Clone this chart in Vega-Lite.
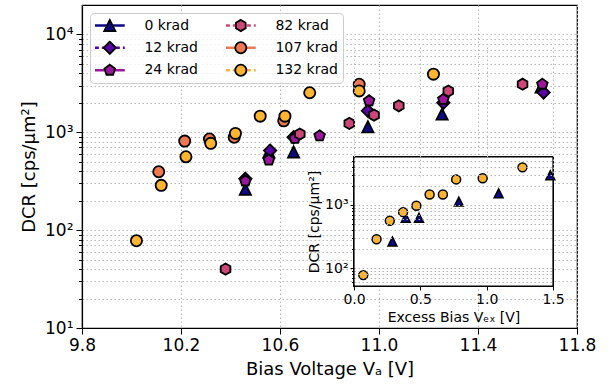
{
  "$schema": "https://vega.github.io/schema/vega-lite/v6.json",
  "autosize": {"type": "none"},
  "width": 495,
  "height": 323,
  "padding": {"left": 82, "top": 5, "right": 31, "bottom": 58},
  "background": "white",
  "config": {
    "font": "DejaVu Sans",
    "view": {"stroke": "black", "strokeWidth": 1.2},
    "axis": {
      "labelFont": "DejaVu Sans", "titleFont": "DejaVu Sans",
      "labelColor": "black", "titleColor": "black", "titleFontWeight": "normal",
      "domainColor": "black", "domainWidth": 1.2, "tickColor": "black", "tickWidth": 1,
      "gridColor": "#b8b8b8", "gridDash": [1.5, 2.5], "gridWidth": 1, "labelFlush": false
    },
    "legend": {"labelFont": "DejaVu Sans", "labelColor": "black"}
  },
  "datasets": {
    "main": [
      {"dose": "0 krad", "va": 10.46, "dcr": 262},
      {"dose": "0 krad", "va": 10.555, "dcr": 630},
      {"dose": "0 krad", "va": 10.655, "dcr": 630},
      {"dose": "0 krad", "va": 10.955, "dcr": 1137},
      {"dose": "0 krad", "va": 11.255, "dcr": 1534},
      {"dose": "0 krad", "va": 11.655, "dcr": 2900},
      {"dose": "12 krad", "va": 10.46, "dcr": 335},
      {"dose": "12 krad", "va": 10.56, "dcr": 650},
      {"dose": "12 krad", "va": 10.655, "dcr": 890},
      {"dose": "12 krad", "va": 10.955, "dcr": 1660},
      {"dose": "12 krad", "va": 11.26, "dcr": 2000},
      {"dose": "12 krad", "va": 11.665, "dcr": 2550},
      {"dose": "24 krad", "va": 10.46, "dcr": 318},
      {"dose": "24 krad", "va": 10.555, "dcr": 520},
      {"dose": "24 krad", "va": 10.66, "dcr": 867},
      {"dose": "24 krad", "va": 10.76, "dcr": 920},
      {"dose": "24 krad", "va": 10.96, "dcr": 2100},
      {"dose": "24 krad", "va": 11.26, "dcr": 2170},
      {"dose": "24 krad", "va": 11.66, "dcr": 3100},
      {"dose": "82 krad", "va": 10.38, "dcr": 40},
      {"dose": "82 krad", "va": 10.68, "dcr": 960},
      {"dose": "82 krad", "va": 10.88, "dcr": 1233},
      {"dose": "82 krad", "va": 10.98, "dcr": 1500},
      {"dose": "82 krad", "va": 11.08, "dcr": 1866},
      {"dose": "82 krad", "va": 11.28, "dcr": 2640},
      {"dose": "82 krad", "va": 11.58, "dcr": 3100},
      {"dose": "107 krad", "va": 10.11, "dcr": 395},
      {"dose": "107 krad", "va": 10.215, "dcr": 813},
      {"dose": "107 krad", "va": 10.315, "dcr": 853},
      {"dose": "107 krad", "va": 10.415, "dcr": 890},
      {"dose": "107 krad", "va": 10.615, "dcr": 1310},
      {"dose": "107 krad", "va": 10.92, "dcr": 3100},
      {"dose": "132 krad", "va": 10.02, "dcr": 78},
      {"dose": "132 krad", "va": 10.12, "dcr": 287},
      {"dose": "132 krad", "va": 10.22, "dcr": 562},
      {"dose": "132 krad", "va": 10.32, "dcr": 771},
      {"dose": "132 krad", "va": 10.42, "dcr": 975},
      {"dose": "132 krad", "va": 10.52, "dcr": 1462},
      {"dose": "132 krad", "va": 10.62, "dcr": 1462},
      {"dose": "132 krad", "va": 10.72, "dcr": 2535},
      {"dose": "132 krad", "va": 10.92, "dcr": 2650},
      {"dose": "132 krad", "va": 11.22, "dcr": 3930}
    ],
    "inset": [
      {"dose": "0 krad", "vex": 0.29, "dcr": 265},
      {"dose": "0 krad", "vex": 0.39, "dcr": 630},
      {"dose": "0 krad", "vex": 0.49, "dcr": 630},
      {"dose": "0 krad", "vex": 0.79, "dcr": 1130},
      {"dose": "0 krad", "vex": 1.09, "dcr": 1530},
      {"dose": "0 krad", "vex": 1.48, "dcr": 2950},
      {"dose": "132 krad", "vex": 0.07, "dcr": 78},
      {"dose": "132 krad", "vex": 0.17, "dcr": 287},
      {"dose": "132 krad", "vex": 0.27, "dcr": 562},
      {"dose": "132 krad", "vex": 0.37, "dcr": 771},
      {"dose": "132 krad", "vex": 0.47, "dcr": 975},
      {"dose": "132 krad", "vex": 0.57, "dcr": 1462},
      {"dose": "132 krad", "vex": 0.67, "dcr": 1462},
      {"dose": "132 krad", "vex": 0.77, "dcr": 2535},
      {"dose": "132 krad", "vex": 0.97, "dcr": 2650},
      {"dose": "132 krad", "vex": 1.27, "dcr": 3930}
    ]
  },
  "layer": [
    {
      "data": {"name": "main"},
      "layer": [
        {
          "mark": {"type": "point", "filled": true, "stroke": "black", "strokeWidth": 1.8, "size": 125, "opacity": 1},
          "encoding": {
            "x": {
              "field": "va", "type": "quantitative",
              "scale": {"domain": [9.8, 11.8], "nice": false, "zero": false},
              "axis": {
                "orient": "bottom", "values": [9.8, 10.2, 10.6, 11.0, 11.4, 11.8], "format": ".1f",
                "title": "Bias Voltage Vₐ [V]", "labelFontSize": 17, "titleFontSize": 18,
                "tickSize": 6, "labelPadding": 3, "titlePadding": 7, "grid": true
              }
            },
            "y": {
              "field": "dcr", "type": "quantitative",
              "scale": {"type": "log", "domain": [10, 20000], "nice": false},
              "axis": {
                "orient": "left",
                "values": [10, 20, 30, 40, 50, 60, 70, 80, 90, 100, 200, 300, 400, 500, 600, 700, 800, 900, 1000, 2000, 3000, 4000, 5000, 6000, 7000, 8000, 9000, 10000],
                "labelExpr": "datum.value == 10 ? '10¹' : datum.value == 100 ? '10²' : datum.value == 1000 ? '10³' : datum.value == 10000 ? '10⁴' : ''",
                "tickSize": {"condition": {"test": "datum.value == 10 || datum.value == 100 || datum.value == 1000 || datum.value == 10000", "value": 6}, "value": 3.5},
                "title": "DCR [cps/µm²]", "labelFontSize": 17, "titleFontSize": 18,
                "labelPadding": 3, "titlePadding": 6, "grid": true
              }
            },
            "color": {
              "field": "dose", "type": "nominal",
              "scale": {"domain": ["0 krad", "12 krad", "24 krad", "82 krad", "107 krad", "132 krad"], "range": ["#0d0887", "#5c01a6", "#9c179e", "#cc4778", "#ed7953", "#fdb42f"]},
              "legend": {"orient": "none", "legendX": 8, "legendY": 8, "columns": 2, "title": null, "labelFontSize": 14, "labelOpacity": 0, "symbolSize": 125, "symbolStrokeColor": "black", "symbolStrokeWidth": 1.8, "symbolOffset": 7.8, "labelOffset": 27.6, "columnPadding": 28, "rowPadding": 7.5, "clipHeight": 14.5, "padding": 5, "zindex": 2, "symbolOpacity": 1,
                "encode": {"symbols": {"update": {"stroke": {"value": "black"}, "strokeWidth": {"value": 1.8}, "opacity": {"value": 1}}}}}
            },
            "shape": {
              "field": "dose", "type": "nominal",
              "scale": {"domain": ["0 krad", "12 krad", "24 krad", "82 krad", "107 krad", "132 krad"], "range": ["M0,-1L1,1L-1,1Z", "M0,-1.1L1.1,0L0,1.1L-1.1,0Z", "M0,-1L0.951,-0.309L0.588,0.809L-0.588,0.809L-0.951,-0.309Z", "M0,-1L0.866,-0.5L0.866,0.5L0,1L-0.866,0.5L-0.866,-0.5Z", "circle", "circle"]},
              "legend": {"orient": "none", "legendX": 8, "legendY": 8, "columns": 2, "title": null, "labelFontSize": 14, "labelOpacity": 0, "symbolSize": 125, "symbolStrokeColor": "black", "symbolStrokeWidth": 1.8, "symbolOffset": 7.8, "labelOffset": 27.6, "columnPadding": 28, "rowPadding": 7.5, "clipHeight": 14.5, "padding": 5, "zindex": 2, "symbolOpacity": 1,
                "encode": {"symbols": {"update": {"stroke": {"value": "black"}, "strokeWidth": {"value": 1.8}, "opacity": {"value": 1}}}}}
            }
          }
        },
        {
          "transform": [{"filter": "false"}],
          "mark": {"type": "line", "strokeWidth": 2.5},
          "encoding": {
            "x": {"field": "va", "type": "quantitative"},
            "y": {"field": "dcr", "type": "quantitative"},
            "color": {
              "field": "dose", "type": "nominal",
              "scale": {"domain": ["0 krad", "12 krad", "24 krad", "82 krad", "107 krad", "132 krad"], "range": ["#0d0887", "#5c01a6", "#9c179e", "#cc4778", "#ed7953", "#fdb42f"]},
              "legend": {"orient": "none", "legendX": 8, "legendY": 8, "columns": 2, "title": null, "labelFontSize": 14, "symbolType": "M-2.6,0H2.6", "symbolSize": 132, "symbolStrokeWidth": 2.5, "symbolOffset": 7.8, "labelOffset": 27.6, "columnPadding": 28, "rowPadding": 7.5, "clipHeight": 14.5, "padding": 5, "fillColor": "rgba(255,255,255,0.8)", "strokeColor": "#cccccc", "cornerRadius": 4, "zindex": 1}
            },
            "strokeDash": {
              "field": "dose", "type": "nominal",
              "scale": {"domain": ["0 krad", "12 krad", "24 krad", "82 krad", "107 krad", "132 krad"], "range": [[1, 0], [4, 3], [1, 0], [4, 3], [1, 0], [4, 3]]},
              "legend": {"orient": "none", "legendX": 8, "legendY": 8, "columns": 2, "title": null, "labelFontSize": 14, "symbolType": "M-2.6,0H2.6", "symbolSize": 132, "symbolStrokeWidth": 2.5, "symbolOffset": 7.8, "labelOffset": 27.6, "columnPadding": 28, "rowPadding": 7.5, "clipHeight": 14.5, "padding": 5, "fillColor": "rgba(255,255,255,0.8)", "strokeColor": "#cccccc", "cornerRadius": 4, "zindex": 1}
            }
          }
        }
      ],
      "resolve": {"scale": {"color": "independent", "shape": "independent", "strokeDash": "independent"}}
    },
    {
      "data": {"name": "inset"},
      "layer": [
        {
          "mark": {"type": "rect", "fill": "white", "stroke": "black", "strokeWidth": 1.2},
          "encoding": {
            "x": {
              "datum": 0, "type": "quantitative",
              "scale": {"domain": [0, 1.5], "range": [272, 471], "nice": false, "zero": false},
              "axis": {
                "orient": "bottom", "offset": -42, "values": [0, 0.5, 1, 1.5], "format": ".1f",
                "title": "Excess Bias Vₑₓ [V]", "labelFontSize": 14, "titleFontSize": 14,
                "tickSize": 4, "labelPadding": 2, "titlePadding": 4, "grid": true, "domain": false, "zindex": 1
              }
            },
            "x2": {"datum": 1.5},
            "y": {
              "datum": 52.5, "type": "quantitative",
              "scale": {"type": "log", "domain": [52.5, 5730], "range": [281, 152], "nice": false},
              "axis": {
                "orient": "left", "offset": -272,
                "values": [60, 70, 80, 90, 100, 200, 300, 400, 500, 600, 700, 800, 900, 1000, 2000, 3000, 4000, 5000],
                "labelExpr": "datum.value == 100 ? '10²' : datum.value == 1000 ? '10³' : ''",
                "tickSize": {"condition": {"test": "datum.value == 100 || datum.value == 1000", "value": 4}, "value": 2.5},
                "title": "DCR [cps/µm²]", "labelFontSize": 14, "titleFontSize": 14,
                "labelPadding": 2, "titlePadding": 3, "grid": true, "domain": false, "zindex": 1
              }
            },
            "y2": {"datum": 5730}
          }
        },
        {
          "mark": {"type": "point", "filled": true, "stroke": "black", "strokeWidth": 1.5, "size": 80, "opacity": 1},
          "encoding": {
            "x": {"field": "vex", "type": "quantitative"},
            "y": {"field": "dcr", "type": "quantitative"},
            "color": {
              "field": "dose", "type": "nominal",
              "scale": {"domain": ["0 krad", "12 krad", "24 krad", "82 krad", "107 krad", "132 krad"], "range": ["#0d0887", "#5c01a6", "#9c179e", "#cc4778", "#ed7953", "#fdb42f"]},
              "legend": null
            },
            "shape": {
              "field": "dose", "type": "nominal",
              "scale": {"domain": ["0 krad", "12 krad", "24 krad", "82 krad", "107 krad", "132 krad"], "range": ["M0,-1L1,1L-1,1Z", "M0,-1.1L1.1,0L0,1.1L-1.1,0Z", "M0,-1L0.951,-0.309L0.588,0.809L-0.588,0.809L-0.951,-0.309Z", "M0,-1L0.866,-0.5L0.866,0.5L0,1L-0.866,0.5L-0.866,-0.5Z", "circle", "circle"]},
              "legend": null
            }
          }
        }
      ]
    }
  ],
  "resolve": {"scale": {"x": "independent", "y": "independent", "color": "independent", "shape": "independent", "strokeDash": "independent"}}
}
